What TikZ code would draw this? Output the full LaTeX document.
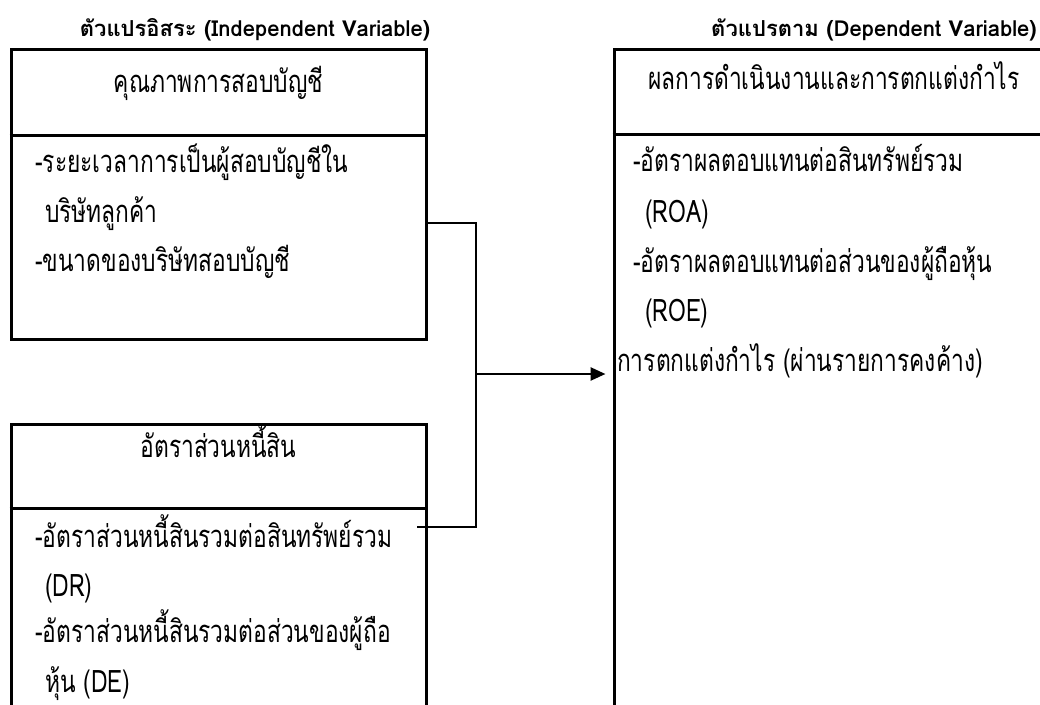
\documentclass[tikz,border=0pt]{standalone}
\usepackage{fontspec}
\setmainfont[Script=Thai]{Loma}
\newfontfamily\thbody[Script=Thai,FakeStretch=0.735]{Loma}
\newfontfamily\thhead[Script=Thai]{Loma}
\usetikzlibrary{arrows.meta}
\begin{document}
\begin{tikzpicture}[x=1pt,y=-1pt,
  box/.style={draw=black,line width=3pt,rectangle,inner sep=0pt},
  conn/.style={draw=black,line width=2.6pt},
  txt/.style={anchor=base west,inner sep=0pt,font=\thbody\fontsize{31}{36}\selectfont},
  ttl/.style={anchor=base,inner sep=0pt,font=\thbody\fontsize{31}{36}\selectfont},
  hd/.style={anchor=base,inner sep=0pt,font=\thhead\bfseries\fontsize{22}{26}\selectfont}]
\useasboundingbox (0,0) rectangle (1040,704);
% boxes
\node[box,minimum width=415pt,minimum height=290pt] (qbox) at (218.5,194) {};
\node[box,minimum width=415pt,minimum height=320pt] (dbox) at (218.5,584) {};
\node[box,minimum width=460pt,minimum height=700pt] (rbox) at (844,399) {};
\draw[line width=3pt] (qbox.west |- 0,135) -- (qbox.east |- 0,135);
\draw[line width=3pt] (dbox.west |- 0,508) -- (dbox.east |- 0,508);
\draw[line width=3pt] (rbox.west |- 0,134) -- (1045,134);
% headings
\node[hd] (h1) at (255,36) {ตัวแปรอิสระ (Independent Variable)};
\node[hd,anchor=base east] (h2) at (1037,36) {ตัวแปรตาม (Dependent Variable)};
% titles
\node[ttl] (t1) at (218.5,92) {คุณภาพการสอบบัญชี};
\node[ttl] (t2) at (218.5,457) {อัตราส่วนหนี้สิน};
\node[ttl,anchor=base west] (t3) at (648,89) {ผลการดำเนินงานและการตกแต่งกำไร};
% top-left items
\node[txt] (a1) at (35,172) {-ระยะเวลาการเป็นผู้สอบบัญชีใน};
\node[txt] (a2) at (45,222) {บริษัทลูกค้า};
\node[txt] (a3) at (35,271) {-ขนาดของบริษัทสอบบัญชี};
% bottom-left items
\node[txt] (b1) at (35,547) {-อัตราส่วนหนี้สินรวมต่อสินทรัพย์รวม};
\node[txt] (b2) at (45,596) {(DR)};
\node[txt] (b3) at (35,642) {-อัตราส่วนหนี้สินรวมต่อส่วนของผู้ถือ};
\node[txt] (b4) at (45,692) {หุ้น (DE)};
% right items
\node[txt] (c1) at (633,171) {-อัตราผลตอบแทนต่อสินทรัพย์รวม};
\node[txt] (c2) at (645,222) {(ROA)};
\node[txt] (c3) at (633,272) {-อัตราผลตอบแทนต่อส่วนของผู้ถือหุ้น};
\node[txt] (c4) at (645,321) {(ROE)};
\node[txt] (c5) at (617,371) {การตกแต่งกำไร (ผ่านรายการคงค้าง)};
% connectors
\coordinate (j1) at (476,223);
\coordinate (j2) at (476,527);
\coordinate (jm) at (476,374);
\coordinate (dend) at (417,527);
\draw[conn] (qbox.east |- j1) -- (j1) -- (j2) -- (dend);
\draw[conn,-{Triangle[length=15pt,width=13pt]},shorten >=7pt] (jm) -- (rbox.west |- jm);
\end{tikzpicture}
\end{document}
